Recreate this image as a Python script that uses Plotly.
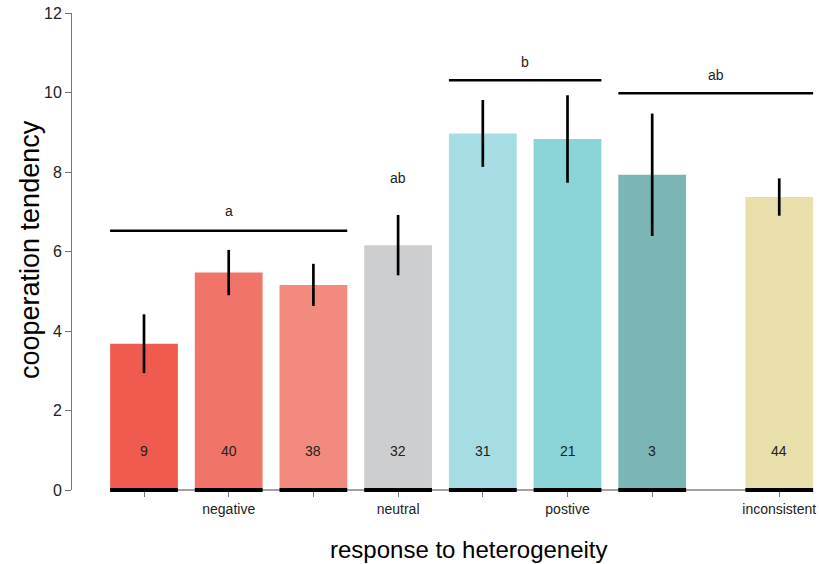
import plotly.graph_objects as go

# data
positions = [1, 2, 3, 4, 5, 6, 7, 8.5]
means = [3.68, 5.47, 5.16, 6.16, 8.97, 8.83, 7.93, 7.37]
errors = [0.74, 0.57, 0.53, 0.76, 0.84, 1.10, 1.54, 0.47]
counts = ["9", "40", "38", "32", "31", "21", "3", "44"]
colors = ["#EF5B4F", "#F07468", "#F38A7E", "#CDCED0", "#A6DDE5", "#8AD3D7", "#7CB5B6", "#E8DFAA"]
tick_labels = ["", "negative", "", "neutral", "", "postive", "", "inconsistent"]
y_ticks = [0, 2, 4, 6, 8, 10, 12]

# significance groups: (x_start, x_end, y_line, label, label_y)
groups = [
    (0.6, 3.4, 6.52, "a", 7.03),
    (4.6, 6.4, 10.31, "b", 10.78),
    (6.6, 8.9, 9.98, "ab", 10.44),
]
single_labels = [(4, 7.85, "ab")]

W, H = 819, 564
ml, mr, mt, mb = 72, 0, 13, 74
unit = 84.7
x0 = 1 - (144 - ml) / unit
x1 = 1 + (W - 144) / unit

fig = go.Figure()
fig.add_trace(go.Bar(
    x=positions, y=means, width=0.8,
    marker=dict(color=colors, line=dict(width=0)),
    error_y=dict(type="data", array=errors, color="black", thickness=2.7, width=0),
    showlegend=False,
))

shapes = []
# thin baseline
shapes.append(dict(type="line", xref="x", yref="paper", x0=positions[0] - 0.4, x1=positions[-1] + 0.4,
                   y0=0, y1=0, line=dict(color="#444444", width=1)))
# thick segments under bars
for p in positions:
    shapes.append(dict(type="line", xref="x", yref="paper", x0=p - 0.4, x1=p + 0.4,
                       y0=0, y1=0, line=dict(color="black", width=4)))
annotations = []
for (xs, xe, yl, lab, ly) in groups:
    shapes.append(dict(type="line", xref="x", yref="y", x0=xs, x1=xe, y0=yl, y1=yl,
                       line=dict(color="black", width=2.5)))
    annotations.append(dict(x=(xs + xe) / 2, y=ly, xref="x", yref="y", text=lab, showarrow=False,
                            font=dict(size=14, color="#222222")))
for (xp, yp, lab) in single_labels:
    annotations.append(dict(x=xp, y=yp, xref="x", yref="y", text=lab, showarrow=False,
                            font=dict(size=14, color="#222222")))
for p, c in zip(positions, counts):
    annotations.append(dict(x=p, y=0.98, xref="x", yref="y", text=c, showarrow=False,
                            font=dict(size=14, color="#222222")))

# axis titles
annotations.append(dict(x=1 + (469 - 144) / unit, y=-(549 - (H - mb)) / (H - mt - mb), xref="x", yref="paper",
                        text="response to heterogeneity", showarrow=False,
                        font=dict(size=24, color="black"), yanchor="middle"))
annotations.append(dict(x=(30 - ml) / (W - ml - mr), y=(490 - 250) / (H - mt - mb), xref="paper", yref="paper",
                        text="cooperation tendency", showarrow=False, textangle=-90,
                        font=dict(size=27, color="black"), xanchor="center", yanchor="middle"))

fig.update_layout(
    width=W, height=H,
    margin=dict(l=ml, r=mr, t=mt, b=mb),
    plot_bgcolor="white", paper_bgcolor="white",
    font=dict(family="Liberation Sans, Arial, sans-serif", color="#222222"),
    shapes=shapes, annotations=annotations,
    xaxis=dict(range=[x0, x1], showgrid=False, zeroline=False, showline=False,
               tickvals=positions, ticktext=tick_labels, ticks="outside", ticklen=6,
               tickcolor="#777777", tickfont=dict(size=14, color="#222222")),
    yaxis=dict(range=[0, 12], showgrid=False, zeroline=False, showline=True, linecolor="#777777",
               linewidth=1, tickvals=y_ticks, ticks="outside", ticklen=6, tickcolor="#777777",
               tickfont=dict(size=16, color="#222222")),
)

fig.write_html("out.html")
